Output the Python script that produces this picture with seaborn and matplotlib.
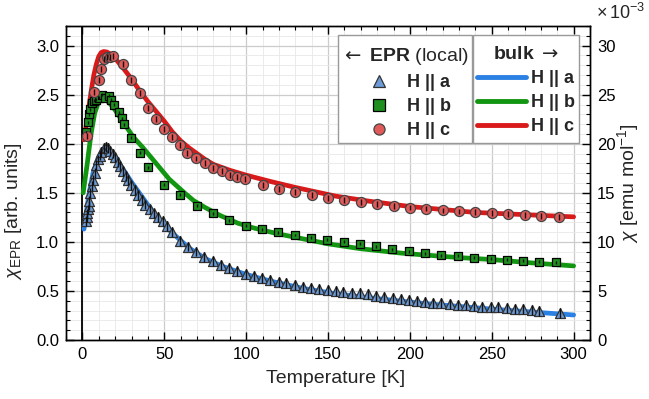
import numpy as np
import pandas as pd
import seaborn as sns
import matplotlib
matplotlib.use("Agg")
import matplotlib.pyplot as plt
from matplotlib.lines import Line2D
from matplotlib.patches import Rectangle
from matplotlib.ticker import MultipleLocator

# ---------------- data ----------------
# EPR (local) points, left axis units
epr_a_T = [2.5, 2.8, 3.1, 3.4, 3.8, 4.2, 4.9, 5.6, 6.5, 7.5, 8.5, 9.5, 10.5, 11.6, 13.0,
           14.5, 15.6, 17.0, 18.5, 20.0, 21.5, 23.0, 24.7, 26.4, 28.0, 29.8, 32.0, 34.0,
           36.2, 38.5, 41.0, 43.5, 46.0, 49.0, 51.7, 54.6, 59.6, 64.7, 69.4, 74.3, 79.5,
           84.4, 89.7, 94.7, 99.8, 104.7, 109.7, 114.8, 119.9, 124.6, 129.6, 134.7, 139.8,
           144.8, 149.9, 154.6, 159.4, 164.7, 169.6, 174.5, 179.3, 184.4, 189.5, 194.5,
           199.2, 204.1, 209.3, 214.2, 219.1, 224.4, 229.2, 234.1, 239.2, 244.2, 249.3,
           254.0, 259.2, 264.1, 269.0, 274.3, 279.1, 291.9]
epr_a_v = [1.21, 1.25, 1.29, 1.33, 1.37, 1.42, 1.50, 1.57, 1.63, 1.70, 1.78, 1.84, 1.88, 1.92, 1.955,
           1.97, 1.955, 1.93, 1.90, 1.86, 1.81, 1.77, 1.72, 1.67, 1.63, 1.58, 1.53, 1.48,
           1.43, 1.38, 1.33, 1.29, 1.25, 1.21, 1.16, 1.10, 1.013, 0.952, 0.901, 0.850, 0.809,
           0.765, 0.731, 0.707, 0.673, 0.653, 0.629, 0.612, 0.595, 0.578, 0.561, 0.537, 0.527,
           0.517, 0.510, 0.503, 0.493, 0.483, 0.476, 0.468, 0.449, 0.442, 0.425, 0.415,
           0.408, 0.401, 0.391, 0.381, 0.374, 0.367, 0.357, 0.357, 0.350, 0.340, 0.340,
           0.333, 0.323, 0.316, 0.316, 0.306, 0.299, 0.272]

epr_b_T = [2.5, 3.2, 4.0, 4.9, 5.9, 6.9, 8.5, 9.9, 12.0, 14.0, 16.0, 17.5, 19.5, 22.1, 24.2,
           25.7, 29.6, 34.9, 40.0, 49.9, 59.6, 69.8, 79.7, 89.7, 99.8, 109.4, 119.5, 129.6,
           139.4, 149.5, 159.6, 169.8, 179.4, 189.1, 199.2, 209.4, 218.9, 229.2, 239.3,
           249.4, 259.4, 269.0, 279.0, 289.1]
epr_b_v = [2.12, 2.22, 2.30, 2.35, 2.42, 2.44, 2.45, 2.47, 2.50, 2.47, 2.49, 2.45, 2.40, 2.32, 2.26,
           2.20, 2.06, 1.91, 1.76, 1.58, 1.48, 1.37, 1.29, 1.22, 1.165, 1.13, 1.10, 1.07,
           1.04, 1.02, 1.00, 0.98, 0.953, 0.927, 0.905, 0.885, 0.865, 0.857, 0.84,
           0.827, 0.817, 0.807, 0.80, 0.793]

epr_c_T = [2.9, 6.9, 9.9, 11.4, 13.0, 15.0, 17.0, 19.0, 24.8, 29.6, 34.9, 39.8, 45.0, 49.9,
           54.6, 59.6, 64.0, 69.4, 74.9, 79.9, 85.0, 90.0, 94.5, 99.5, 110, 120, 130, 140,
           150, 160, 170, 180, 190, 200, 210, 220, 230, 240, 250, 260, 270, 280, 291]
epr_c_v = [2.08, 2.53, 2.65, 2.76, 2.86, 2.88, 2.88, 2.89, 2.81, 2.65, 2.52, 2.36, 2.25, 2.15,
           2.07, 1.99, 1.91, 1.85, 1.80, 1.75, 1.72, 1.68, 1.66, 1.64, 1.58, 1.54, 1.51, 1.48,
           1.45, 1.43, 1.41, 1.39, 1.37, 1.35, 1.34, 1.32, 1.31, 1.30, 1.29, 1.28, 1.27, 1.26, 1.25]

# bulk curves, expressed in left-axis units (1.0 <-> 10e-3 emu/mol)
bulk_a_T = [1.0, 2.0, 3.0, 4.5, 6.5, 9.5, 12.5, 14.5, 17.5, 22.5, 30, 39, 47, 55, 65, 75, 85,
            95, 105, 115, 135, 155, 175, 210, 250, 275, 300]
bulk_a_v = [1.13, 1.25, 1.37, 1.53, 1.70, 1.85, 1.94, 1.96, 1.93, 1.80, 1.61, 1.40, 1.22, 1.09,
            0.94, 0.83, 0.755, 0.695, 0.645, 0.60, 0.525, 0.47, 0.43, 0.37, 0.315, 0.285, 0.255]

bulk_b_T = [0.5, 1.5, 3.0, 4.5, 5.5, 7.5, 9.5, 11.0, 13.0, 15.0, 18.5, 22.5, 27, 31, 37, 45,
            53, 57, 63, 68, 75, 84, 95, 105, 120, 135, 150, 170, 195, 210, 230, 250, 275, 300]
bulk_b_v = [1.50, 1.62, 1.80, 2.00, 2.12, 2.31, 2.41, 2.44, 2.455, 2.44, 2.38, 2.28, 2.17, 2.07,
            1.96, 1.80, 1.64, 1.58, 1.49, 1.42, 1.35, 1.27, 1.19, 1.14, 1.08, 1.03, 0.98, 0.93,
            0.885, 0.865, 0.84, 0.82, 0.785, 0.755]

bulk_c_T = [1.0, 2.0, 3.0, 4.0, 5.5, 7.0, 8.5, 10.0, 11.5, 13.0, 15.0, 17.5, 20.0, 25.0, 30.0,
            35.0, 40.0, 45.0, 50.0, 55.0, 60.0, 65.0, 70.0, 75.0, 80.0, 90.0, 100, 115, 130,
            155, 175, 200, 240, 280, 300]
bulk_c_v = [2.04, 2.15, 2.26, 2.38, 2.55, 2.70, 2.81, 2.89, 2.93, 2.94, 2.935, 2.91, 2.87, 2.77,
            2.66, 2.54, 2.43, 2.33, 2.23, 2.12, 2.03, 1.96, 1.90, 1.84, 1.79, 1.73, 1.68, 1.615,
            1.555, 1.465, 1.415, 1.36, 1.30, 1.27, 1.255]

labels = ["H || a", "H || b", "H || c"]
x_ticks = [0, 50, 100, 150, 200, 250, 300]
y_ticks_left = [0.0, 0.5, 1.0, 1.5, 2.0, 2.5, 3.0]
y_ticks_right = [0, 5, 10, 15, 20, 25, 30]

# ---------------- style ----------------
sns.set_theme(style="ticks")
plt.rcParams['font.family'] = ['Liberation Sans', 'DejaVu Sans']
plt.rcParams['mathtext.fontset'] = 'custom'
plt.rcParams['mathtext.rm'] = 'Liberation Sans'
plt.rcParams['mathtext.it'] = 'Liberation Sans:italic'
plt.rcParams['mathtext.bf'] = 'Liberation Sans:bold'
plt.rcParams['mathtext.sf'] = 'DejaVu Sans'
plt.rcParams['axes.edgecolor'] = 'black'
plt.rcParams['axes.linewidth'] = 1.0

line_cols = ["#2b80e3", "#129612", "#d81a1a"]
fill_cols = ["#6c9bd6", "#1f8f1f", "#e05a5a"]
edge_cols = ["#333333", "#000000", "#444444"]

fig = plt.figure(figsize=(6.49, 3.99), dpi=100)
ax = fig.add_axes([66 / 649, 1 - 340 / 399, 524 / 649, 314 / 399])

ax.set_xlim(-10, 310)
ax.set_ylim(0, 3.2)
ax.xaxis.set_major_locator(MultipleLocator(50))
ax.xaxis.set_minor_locator(MultipleLocator(10))
ax.yaxis.set_major_locator(MultipleLocator(0.5))
ax.yaxis.set_minor_locator(MultipleLocator(0.1))
ax.set_xticks(x_ticks)
ax.set_yticks(y_ticks_left)
ax.set_yticklabels([f"{v:.1f}" for v in y_ticks_left])
ax.grid(which='major', color='#cccccc', lw=0.9)
ax.grid(which='minor', color='#e8e8e8', lw=0.6)
ax.set_axisbelow(True)
ax.axvline(0, color='black', lw=1.3, zorder=1.5)

# curves
for T, v, c in [(bulk_a_T, bulk_a_v, line_cols[0]),
                (bulk_b_T, bulk_b_v, line_cols[1]),
                (bulk_c_T, bulk_c_v, line_cols[2])]:
    sns.lineplot(x=T, y=v, ax=ax, color=c, lw=3.4, sort=False, estimator=None,
                 zorder=2, legend=False)

# points
pts = [(epr_a_T, epr_a_v, '^', 52, 0.05), (epr_b_T, epr_b_v, 's', 40, 0.015),
       (epr_c_T, epr_c_v, 'o', 52, 0.03)]
for i, (T, v, m, s, err) in enumerate(pts):
    sns.scatterplot(x=T, y=v, ax=ax, marker=m, s=s, color=fill_cols[i],
                    edgecolor=edge_cols[i], linewidth=0.9, zorder=3, legend=False)
    ax.errorbar(T, v, yerr=err, fmt='none', ecolor='#111111', elinewidth=1.0,
                capsize=0, zorder=4)

ax.tick_params(which='both', direction='in', top=True, right=False, colors='black',
               labelsize=12, pad=5)
ax.tick_params(which='major', length=6, width=1)
ax.tick_params(which='minor', length=3, width=0.8)

ax.set_xlabel("Temperature [K]", fontsize=14)
ax.xaxis.set_label_coords(0.514, -0.095)
ax.set_ylabel(r"$\chi_{\mathrm{EPR}}$ [arb. units]", fontsize=14)
ax.yaxis.set_label_coords(-0.08, 0.41)

ax2 = ax.twinx()
ax2.set_ylim(0, 32)
ax2.set_yticks(y_ticks_right)
ax2.yaxis.set_minor_locator(MultipleLocator(1))
ax2.tick_params(which='both', direction='in', colors='black', labelsize=12, pad=5)
ax2.tick_params(which='major', length=6, width=1)
ax2.tick_params(which='minor', length=3, width=0.8)
ax2.set_ylabel(r"$\chi$ [emu mol$^{-1}$]", fontsize=14, labelpad=0)
ax2.text(1.012, 1.01, r"$\times\,10^{-3}$", transform=ax2.transAxes, ha='left',
         va='bottom', fontsize=13)
ax2.grid(False)

# legend boxes (drawn at the reference's positions)
for x0, w in [(0.519, 0.256), (0.777, 0.202)]:
    ax2.add_patch(Rectangle((x0, 0.627), w, 0.344, transform=ax2.transAxes,
                            facecolor='white', edgecolor='#999999', lw=1.0, zorder=4.5))

h_epr = [Line2D([], [], ls='none', marker=m, ms=8, mfc=fill_cols[i], mec=edge_cols[i],
                mew=0.9, label=labels[i]) for i, m in enumerate(['^', 's', 'o'])]
h_bulk = [Line2D([], [], color=line_cols[i], lw=3.5, label=labels[i]) for i in range(3)]

leg_kw = dict(prop={'weight': 'bold', 'size': 13}, title_fontsize=14, frameon=False,
              labelspacing=0.4, borderaxespad=0.0, borderpad=0.0, loc='upper center')
leg1 = ax2.legend(handles=h_epr, title=r"$\mathsf{\leftarrow}$ $\mathbf{EPR}$ (local)",
                  bbox_to_anchor=(0.646, 0.937), handlelength=2.3, handletextpad=0.4,
                  **leg_kw)
ax2.add_artist(leg1)
leg2 = ax2.legend(handles=h_bulk, title=r"$\mathbf{bulk}$ $\mathsf{\rightarrow}$",
                  bbox_to_anchor=(0.878, 0.937), handlelength=2.7, handletextpad=0.25,
                  **leg_kw)
for lg in (leg1, leg2):
    lg.set_zorder(6)

fig.savefig("out.png", dpi=100)
